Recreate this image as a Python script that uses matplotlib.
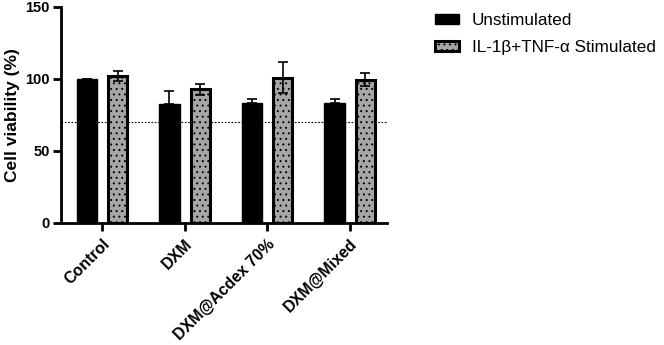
import numpy as np
import matplotlib
matplotlib.use("Agg")
import matplotlib.pyplot as plt

plt.rcParams['font.family'] = ['Liberation Sans', 'DejaVu Sans']
plt.rcParams['hatch.color'] = '#4a4a4a'
plt.rcParams['hatch.linewidth'] = 0.7

# Data
groups = ["Control", "DXM", "DXM@Acdex 70%", "DXM@Mixed"]
unstim = [100.0, 82.6, 83.2, 83.2]
unstim_err = [0.0, 9.3, 2.9, 2.8]
stim = [102.0, 92.8, 101.0, 99.4]
stim_err = [3.5, 4.0, 10.8, 4.6]
threshold = 70
series_labels = ["Unstimulated", "IL-1\u03b2+TNF-\u03b1 Stimulated"]

# Plot config
thick = 2.0
fig = plt.figure(figsize=(6.64, 3.45), dpi=100)
ax = fig.add_axes([61 / 664, 1 - 223 / 345, (387 - 61) / 664, (223 - 7) / 345])

x = np.arange(len(groups))
w = 0.25
off = 0.186

ax.bar(x - off, unstim, w, color='black', edgecolor='black', linewidth=1,
       label=series_labels[0], zorder=2)
ax.bar(x + off, stim, w - 0.02, color='#a6a6a6', edgecolor='black', linewidth=2.2,
       hatch='...', label=series_labels[1], zorder=2)

ax.errorbar(x - off, unstim, yerr=[np.zeros(len(unstim)), unstim_err], fmt='none',
            ecolor='black', elinewidth=1.2, capsize=3.6, capthick=1.2, zorder=3)
ax.errorbar(x + off, stim, yerr=stim_err, fmt='none',
            ecolor='black', elinewidth=1.2, capsize=3.6, capthick=1.2, zorder=3)

ax.axhline(threshold, color='black', linestyle=(0, (1.5, 1.5)), linewidth=0.8, zorder=1)

ax.set_xlim(-0.5, 3.45)
ax.set_ylim(0, 150)
ax.set_yticks([0, 50, 100, 150])
ax.tick_params(axis='y', labelsize=10.5, width=thick, length=6, pad=2)
for t in ax.get_yticklabels():
    t.set_fontweight('bold')
ax.set_xticks(x)
ax.set_xticklabels(groups, rotation=45, ha='right', rotation_mode='anchor',
                   fontsize=11.5, fontweight='bold')
ax.tick_params(axis='x', width=thick, length=6)
ax.set_ylabel('Cell viability (%)', fontsize=12.5, fontweight='bold', labelpad=4)

ax.spines['top'].set_visible(False)
ax.spines['right'].set_visible(False)
ax.spines['bottom'].set_linewidth(thick)
ax.spines['left'].set_linewidth(thick)

fig.legend(loc='upper left', bbox_to_anchor=(435 / 664, 1 - 13 / 345), frameon=False,
           fontsize=12.3, handlelength=1.4, handleheight=0.6, labelspacing=0.7,
           handletextpad=0.75, borderpad=0, borderaxespad=0)

fig.savefig("out.png", dpi=100)
